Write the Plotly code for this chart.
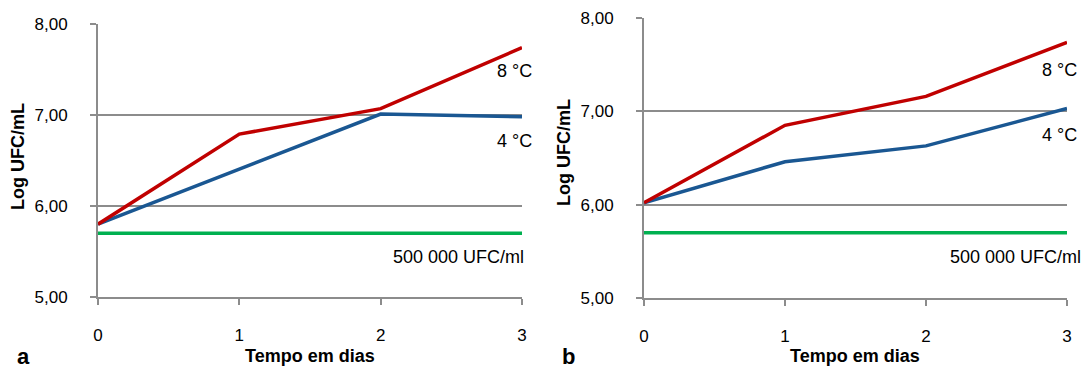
import plotly.graph_objects as go

days = [0, 1, 2, 3]
a_8c = [5.80, 6.79, 7.07, 7.74]
a_4c = [5.80, 6.41, 7.01, 6.98]
b_8c = [6.02, 6.85, 7.16, 7.74]
b_4c = [6.02, 6.46, 6.63, 7.03]
limit = [5.70, 5.70, 5.70, 5.70]
yticks = [5, 6, 7, 8]

RED = "#C00000"
BLUE = "#1A5792"
GREEN = "#00B050"
GRID = "#8C8C8C"
FONT = "Liberation Sans, Arial, sans-serif"

W, H = 1086, 369

def px_x(p):
    return p / W

def px_y(p):
    return 1 - p / H

fig = go.Figure()

panels = [
    dict(x="x", y="y", xd=[px_x(98), px_x(522)], yd=[px_y(297), px_y(24)], r8=a_8c, r4=a_4c),
    dict(x="x2", y="y2", xd=[px_x(644), px_x(1067)], yd=[px_y(298), px_y(18)], r8=b_8c, r4=b_4c),
]

for p in panels:
    fig.add_trace(go.Scatter(x=days, y=limit, mode="lines", line=dict(color=GREEN, width=3.5),
                             xaxis=p["x"], yaxis=p["y"], showlegend=False, hoverinfo="skip"))
    fig.add_trace(go.Scatter(x=days, y=p["r4"], mode="lines", line=dict(color=BLUE, width=3.5),
                             xaxis=p["x"], yaxis=p["y"], showlegend=False))
    fig.add_trace(go.Scatter(x=days, y=p["r8"], mode="lines", line=dict(color=RED, width=3.5),
                             xaxis=p["x"], yaxis=p["y"], showlegend=False))

axis_common_x = dict(range=[0, 3], tickvals=days, showgrid=False, zeroline=False,
                     showline=True, linecolor=GRID, linewidth=2, ticks="outside",
                     ticklen=6, tickwidth=1.5, tickcolor=GRID,
                     tickfont=dict(family=FONT, size=17, color="#000"), ticklabelstandoff=16)
axis_common_y = dict(range=[5, 8], tickvals=yticks, tickformat=".2f", showgrid=True,
                     gridcolor=GRID, gridwidth=1.5, zeroline=False,
                     showline=True, linecolor=GRID, linewidth=2, ticks="outside",
                     ticklen=6, tickwidth=1.5, tickcolor=GRID,
                     tickfont=dict(family=FONT, size=17, color="#000"), ticklabelstandoff=19)

fig.update_layout(
    width=W, height=H,
    margin=dict(l=0, r=0, t=0, b=0, autoexpand=False),
    paper_bgcolor="white", plot_bgcolor="white",
    separators=",.",
    font=dict(family=FONT, color="#000"),
    xaxis=dict(domain=panels[0]["xd"], anchor="y", **axis_common_x),
    yaxis=dict(domain=panels[0]["yd"], anchor="x", **axis_common_y),
    xaxis2=dict(domain=panels[1]["xd"], anchor="y2", **axis_common_x),
    yaxis2=dict(domain=panels[1]["yd"], anchor="x2", **axis_common_y),
)

ann = []
lab_font = dict(family=FONT, size=18, color="#000")
for xr, yr, y8, y4, xs in [("x", "y", 7.48, 6.71, 12), ("x2", "y2", 7.445, 6.75, 12)]:
    ann.append(dict(x=3, y=y8, xref=xr, yref=yr, text="8 °C", showarrow=False,
                    xanchor="right", yanchor="middle", xshift=xs, font=lab_font))
    ann.append(dict(x=3, y=y4, xref=xr, yref=yr, text="4 °C", showarrow=False,
                    xanchor="right", yanchor="middle", xshift=xs, font=lab_font))
ann.append(dict(x=3, y=5.44, xref="x", yref="y", text="500 000 UFC/ml", showarrow=False,
                xanchor="right", yanchor="middle", xshift=4, font=lab_font))
ann.append(dict(x=3, y=5.44, xref="x2", yref="y2", text="500 000 UFC/ml", showarrow=False,
                xanchor="right", yanchor="middle", xshift=16, font=lab_font))

title_font = dict(family=FONT, size=18, color="#000")
ann.append(dict(x=px_x(310), y=px_y(356), xref="paper", yref="paper", text="<b>Tempo em dias</b>",
                showarrow=False, xanchor="center", yanchor="middle", font=title_font))
ann.append(dict(x=px_x(855), y=px_y(356), xref="paper", yref="paper", text="<b>Tempo em dias</b>",
                showarrow=False, xanchor="center", yanchor="middle", font=title_font))
ann.append(dict(x=px_x(18), y=px_y(157), xref="paper", yref="paper", text="<b>Log UFC/mL</b>",
                showarrow=False, xanchor="center", yanchor="middle", textangle=-90, font=title_font))
ann.append(dict(x=px_x(564), y=px_y(153), xref="paper", yref="paper", text="<b>Log UFC/mL</b>",
                showarrow=False, xanchor="center", yanchor="middle", textangle=-90, font=title_font))
ann.append(dict(x=px_x(23), y=px_y(356), xref="paper", yref="paper", text="<b>a</b>",
                showarrow=False, xanchor="center", yanchor="middle", font=dict(family=FONT, size=22, color="#000")))
ann.append(dict(x=px_x(568), y=px_y(356), xref="paper", yref="paper", text="<b>b</b>",
                showarrow=False, xanchor="center", yanchor="middle", font=dict(family=FONT, size=22, color="#000")))

fig.update_layout(annotations=ann)
fig.write_html("out.html")
